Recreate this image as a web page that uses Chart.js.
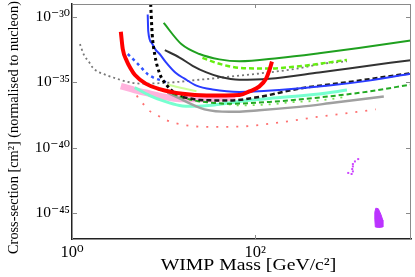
<!DOCTYPE html>
<html><head><meta charset="utf-8">
<script src="https://cdn.jsdelivr.net/npm/chart.js@4.4.1/dist/chart.umd.min.js"></script>
<style>html,body{margin:0;padding:0;background:#fff;}canvas{display:block;}</style>
</head><body>
<canvas id="c" width="415" height="277"></canvas>
<script>
// ---- tick labels ----
const X_TICK_VALUES = [1, 100];
const X_TICK_LABELS = ['10⁰', '10²'];
const Y_TICK_VALUES = [1e-45, 1e-40, 1e-35, 1e-30];
const Y_TICK_LABELS = ['10⁻⁴⁵', '10⁻⁴⁰', '10⁻³⁵', '10⁻³⁰'];
const X_TITLE = 'WIMP Mass [GeV/c²]';
const Y_TITLE = 'Cross-section [cm²] (normalised to nucleon)';

// ---- series: WIMP mass (GeV) and cross-section (cm^2) ----
const greenSolidM = [10, 15.7, 24.6, 40.6, 67, 182, 497, 1349, 4960];
const greenSolidS = [3.55e-31, 8.13e-33, 1.48e-33, 5.75e-34, 4.07e-34, 7.41e-34, 1.70e-33, 4.27e-33, 1.58e-32];

const limeDashM = [26.5, 40.6, 67, 142, 301, 1000];
const limeDashS = [7.41e-34, 2.63e-34, 1.29e-34, 1.15e-34, 1.70e-34, 5.25e-34];

const darkSolidM = [10.3, 14.9, 20.7, 29.3, 40.6, 67, 142, 497, 1050, 4960];
const darkSolidS = [2.95e-33, 7.94e-34, 1.86e-34, 5.75e-35, 2.69e-35, 1.58e-35, 1.91e-35, 5.75e-35, 1.17e-34, 5.01e-34];

const grayDotM = [1.22, 1.35, 1.53, 1.69, 1.92, 2.17, 2.46, 3.08, 3.96, 5.77, 11.6, 24.6, 52.1, 279, 535, 1000];
const grayDotS = [8.51e-33, 1.26e-33, 3.72e-34, 1.29e-34, 6.46e-35, 4.57e-35, 3.24e-35, 1.91e-35, 1.12e-35, 7.94e-36, 9.55e-36, 1.58e-35, 2.69e-35, 1.10e-34, 2.63e-34, 4.07e-34];

const blueSolidM = [6.7, 6.79, 7.41, 8.19, 9.05, 10.5, 13.5, 16.9, 22.8, 34.1, 67, 182, 637, 1735, 4960];
const blueSolidS = [1.58e-30, 8.32e-32, 1.02e-32, 3.02e-33, 1.48e-33, 3.72e-34, 5.37e-35, 1.91e-35, 5.62e-36, 2.82e-36, 1.82e-36, 2.57e-36, 5.62e-36, 1.35e-35, 4.57e-35];

const blackDotM = [7.22, 7.5, 7.98, 9.05, 10.7, 12.6, 16.1];
const blackDotS = [1e-29, 4.90e-32, 1.48e-33, 4.57e-35, 6.76e-36, 2.00e-36, 9.77e-37];

const blackDashM = [16.1, 24.6, 52.1, 110, 301, 1052, 4960];
const blackDashS = [7.59e-37, 4.47e-37, 4.07e-37, 7.59e-37, 3.31e-36, 1.05e-35, 5.01e-35];

const redM = [3.41, 3.58, 3.96, 4.38, 4.84, 6.37, 9.05, 16.1, 29.3, 67, 86, 110, 131, 142, 152];
const redS = [7.59e-32, 3.55e-33, 4.37e-34, 1.10e-34, 3.80e-35, 7.94e-36, 3.02e-36, 1.32e-36, 9.77e-37, 1.07e-36, 2.00e-36, 4.68e-36, 1.91e-35, 7.76e-35, 3.89e-34];

const blueDotM = [4.06, 5.22, 6.70, 7.98, 9.51, 11.0];
const blueDotS = [1.48e-33, 2.63e-34, 4.17e-35, 2.09e-35, 1.35e-35, 9.55e-36];

const greenDashM = [10.3, 19.2, 35.8, 52.1, 142, 637, 1735, 4960];
const greenDashS = [2.34e-36, 4.90e-37, 2.63e-37, 2.29e-37, 3.16e-37, 8.32e-37, 2.00e-36, 6.76e-36];

const limeDotM = [10.8, 21.7, 46, 67, 142, 253, 497, 975];
const limeDotS = [2.34e-36, 4.07e-37, 2.24e-37, 1.70e-37, 2.04e-37, 3.02e-37, 4.07e-37, 7.59e-37];

const paleGreenM = [11.0, 14.9, 22.8];
const paleGreenS = [6.76e-36, 3.98e-36, 2.09e-36];

const cyanM = [4.84, 7.05, 10.3, 14.9, 21.7, 35.8, 67, 142, 497, 1000];
const cyanS = [3.98e-36, 9.77e-37, 3.47e-37, 1.70e-37, 1.45e-37, 1.86e-37, 3.47e-37, 5.89e-37, 1.29e-36, 2.57e-36];

const graySolidM = [11.0, 14.9, 19.2, 27.9, 52.1, 110, 301, 637, 2525];
const graySolidS = [1.62e-36, 5.89e-37, 2.45e-37, 8.51e-38, 5.50e-38, 7.24e-38, 1.32e-37, 2.45e-37, 8.32e-37];

const pinkM = [3.41, 4.84, 7.05, 10.3, 14.9, 24.6, 40.6, 60.6];
const pinkS = [5.13e-36, 2.57e-36, 1.38e-36, 7.59e-37, 5.37e-37, 5.37e-37, 5.89e-37, 6.92e-37];

const salmonM = [5.09, 5.48, 6.22, 6.87, 7.98, 10.8, 13.8, 20.7, 31.6, 67, 169, 472, 1285, 2065];
const salmonS = [9.77e-37, 4.07e-37, 1.70e-37, 7.24e-38, 3.89e-38, 1.26e-38, 7.08e-39, 4.37e-39, 3.89e-39, 4.07e-39, 7.76e-39, 2.24e-38, 5.37e-38, 8.51e-38];

const magentaDotM = [1327, 1222, 1161, 1161, 1142, 1161, 1124, 1033];
const magentaDotS = [1.32e-41, 8.71e-42, 5.50e-42, 3.63e-42, 2.29e-42, 1.51e-42, 9.55e-43, 1.15e-42];

const blobM = [2065, 2198, 2342, 2461, 2461, 2228, 2041, 2015, 2015, 2065];
const blobS = [2.29e-45, 2.09e-45, 7.94e-46, 2.82e-46, 8.32e-47, 7.59e-47, 8.32e-47, 3.31e-46, 1.12e-45, 2.29e-45];

// ---- helpers ----
const pts = (m, s) => m.map((v, i) => ({x: v, y: s[i]}));
function curve(m, s, color, width, dash) {
  return {
    data: pts(m, s), borderColor: color, backgroundColor: color,
    borderWidth: width, borderDash: dash || [], borderCapStyle: 'butt',
    pointRadius: 0, fill: false, cubicInterpolationMode: 'monotone'
  };
}

// datasets listed top-most first
const datasets = [
  curve(redM, redS, '#ff0000', 4),
  curve(blackDotM, blackDotS, '#000000', 3, [3, 3]),
  curve(blueSolidM, blueSolidS, '#2a3cff', 2),
  curve(blackDashM, blackDashS, '#1a1a1a', 2.5, [5, 3]),
  curve(blueDotM, blueDotS, '#3355ff', 2.5, [3, 3.5]),
  curve(greenSolidM, greenSolidS, '#1fa01f', 2),
  curve(limeDashM, limeDashS, '#66ee11', 2.5, [5, 3]),
  curve(darkSolidM, darkSolidS, '#333333', 2),
  curve(grayDotM, grayDotS, '#777777', 1.8, [2, 3]),
  curve(greenDashM, greenDashS, '#22aa22', 2, [5, 3]),
  curve(limeDotM, limeDotS, '#77dd55', 1.8, [2, 6]),
  curve(graySolidM, graySolidS, '#a0a0a0', 2.5),
  curve(cyanM, cyanS, '#77ffd0', 3),
  curve(paleGreenM, paleGreenS, '#ccff99', 2),
  curve(pinkM, pinkS, '#ffb3dd', 6.5),
  curve(salmonM, salmonS, '#ff7070', 1.8, [2, 8]),
  { data: pts(magentaDotM, magentaDotS), showLine: false, pointStyle: 'rect',
    pointRadius: 1.4, pointBackgroundColor: '#cc44ff', pointBorderWidth: 0 },
  { data: pts(blobM, blobS), fill: 'shape', backgroundColor: '#bb33ff', borderColor: '#bb33ff',
    borderWidth: 1, pointRadius: 0, tension: 0 }
];

const FONT = "'Liberation Serif', 'DejaVu Serif', serif";

const framePlugin = {
  id: 'frame',
  afterDatasetsDraw(chart) {
    const {ctx, chartArea: a, scales: {x, y}} = chart;
    ctx.save();
    ctx.strokeStyle = '#8a8a8a';
    ctx.lineWidth = 1;
    ctx.beginPath();
    ctx.moveTo(a.left, a.top + 0.5); ctx.lineTo(a.right, a.top + 0.5);
    ctx.moveTo(a.right - 0.5, a.top); ctx.lineTo(a.right - 0.5, a.bottom);
    x.ticks.forEach(t => {
      const px = Math.round(x.getPixelForValue(t.value)) + 0.5;
      ctx.moveTo(px, a.bottom); ctx.lineTo(px, a.bottom - 4);
      ctx.moveTo(px, a.top); ctx.lineTo(px, a.top + 4);
    });
    y.ticks.forEach(t => {
      const py = Math.round(y.getPixelForValue(t.value)) + 0.5;
      ctx.moveTo(a.left, py); ctx.lineTo(a.left + 5, py);
      ctx.moveTo(a.right, py); ctx.lineTo(a.right - 5, py);
    });
    ctx.stroke();
    ctx.restore();
  }
};

// axis titles placed like the reference (slightly wider serif text)
const titlePlugin = {
  id: 'axisTitles',
  afterDraw(chart) {
    const {ctx, chartArea: a} = chart;
    ctx.save();
    ctx.fillStyle = '#000';
    ctx.textAlign = 'center';
    ctx.textBaseline = 'middle';
    ctx.save();
    ctx.translate((a.left + a.right) / 2 + 7, 265.5);
    ctx.scale(1.16, 1);
    ctx.font = '17px ' + FONT;
    ctx.fillText(X_TITLE, 0, 0);
    ctx.restore();
    ctx.save();
    ctx.translate(14.5, (a.top + a.bottom) / 2 + 6);
    ctx.rotate(-Math.PI / 2);
    ctx.font = '14.3px ' + FONT;
    ctx.fillText(Y_TITLE, 0, 0);
    ctx.restore();
    ctx.restore();
  }
};

new Chart(document.getElementById('c'), {
  type: 'line',
  data: { datasets },
  options: {
    responsive: false, animation: false,
    layout: { padding: { top: 3, right: 3, left: 0, bottom: 0 } },
    plugins: { legend: { display: false }, tooltip: { enabled: false } },
    scales: {
      x: {
        type: 'logarithmic', min: 1, max: 5000,
        afterBuildTicks: s => { s.ticks = X_TICK_VALUES.map(v => ({value: v})); },
        afterFit: s => { s.height = 38; s.paddingLeft = 0; s.paddingRight = 0; },
        grid: { display: false, drawTicks: false },
        border: { display: true, color: '#222', width: 1.5 },
        ticks: { autoSkip: false, maxRotation: 0, padding: 4, color: '#000',
          font: { family: FONT, size: 16.5 },
          callback: (v, i) => X_TICK_LABELS[i] },
        title: { display: false, text: X_TITLE }
      },
      y: {
        type: 'logarithmic', min: 1e-47, max: 1e-29,
        afterBuildTicks: s => { s.ticks = Y_TICK_VALUES.map(v => ({value: v})); },
        afterFit: s => { s.width = 72; s.paddingTop = 0; s.paddingBottom = 0; },
        grid: { display: false, drawTicks: false },
        border: { display: true, color: '#222', width: 1.5 },
        ticks: { autoSkip: false, padding: 2, color: '#000',
          font: { family: FONT, size: 15.5 },
          callback: (v, i) => Y_TICK_LABELS[i] },
        title: { display: false, text: Y_TITLE }
      }
    }
  },
  plugins: [framePlugin, titlePlugin]
});
</script>
</body></html>
